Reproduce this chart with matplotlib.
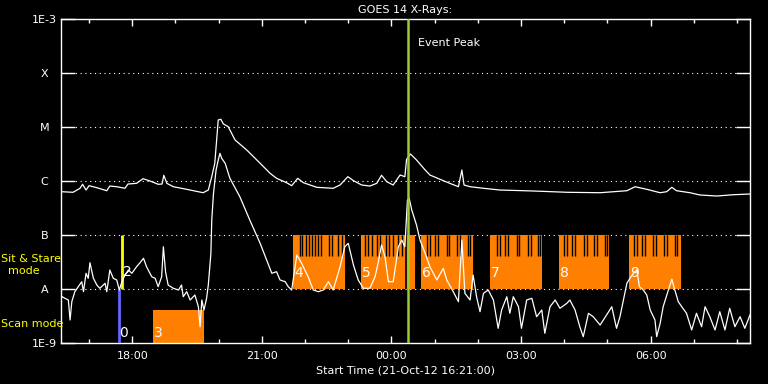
import numpy as np
import matplotlib
matplotlib.use("Agg")
import matplotlib.pyplot as plt
from matplotlib.ticker import FixedLocator, NullLocator

# times in hours from 21-Oct-12 00:00 (values > 24 are on 22-Oct)
t_start = 16.35
t_end = 32.30
event_peak = 24.39

# GOES 1-8 A channel (log10 W/m^2)
long_t = [16.35, 16.63, 16.79, 16.85, 16.93, 17.00, 17.18, 17.41, 17.48, 17.64,
          17.83, 17.90, 18.10, 18.25, 18.41, 18.60, 18.69, 18.73, 18.80, 18.95,
          19.26, 19.64, 19.76, 19.84, 19.91, 19.99, 20.05, 20.11, 20.22, 20.38,
          20.65, 20.96, 21.19, 21.34, 21.57, 21.69, 21.83, 21.96, 22.27, 22.65,
          22.81, 22.99, 23.12, 23.31, 23.50, 23.66, 23.77, 23.89, 24.04, 24.20,
          24.31, 24.35, 24.44, 24.58, 24.78, 24.89, 25.20, 25.35, 25.55, 25.63,
          25.68, 25.82, 26.13, 26.51, 27.28, 28.06, 28.83, 29.45, 29.64, 29.91,
          30.22, 30.37, 30.49, 30.60, 30.91, 31.14, 31.53, 31.91, 32.30]
long_logf = [-6.198, -6.209, -6.135, -6.061, -6.167, -6.087, -6.124, -6.180, -6.093, -6.106,
             -6.135, -6.056, -6.043, -5.957, -6.000, -6.061, -6.056, -5.894, -6.043, -6.106,
             -6.154, -6.217, -6.167, -5.920, -5.672, -4.870, -4.857, -4.944, -4.994, -5.241,
             -5.426, -5.672, -5.857, -5.950, -6.031, -6.087, -5.950, -6.031, -6.117, -6.135,
             -6.074, -5.920, -5.994, -6.074, -6.093, -6.043, -5.894, -6.013, -6.074, -5.889,
             -5.920, -5.598, -5.500, -5.611, -5.796, -5.889, -5.994, -6.043, -6.106, -5.796,
             -6.074, -6.106, -6.135, -6.167, -6.185, -6.209, -6.217, -6.180, -6.106, -6.154,
             -6.217, -6.198, -6.117, -6.180, -6.217, -6.259, -6.278, -6.254, -6.241]

# GOES 0.5-4 A channel (log10 W/m^2)
short_t = [16.35, 16.44, 16.52, 16.56, 16.60, 16.67, 16.75, 16.83, 16.87, 16.93,
           16.98, 17.02, 17.10, 17.18, 17.25, 17.37, 17.41, 17.48, 17.56, 17.64,
           17.70, 17.76, 17.83, 17.91, 17.99, 18.10, 18.18, 18.26, 18.33, 18.45,
           18.53, 18.60, 18.68, 18.72, 18.77, 18.83, 18.95, 19.07, 19.14, 19.18,
           19.26, 19.34, 19.45, 19.53, 19.57, 19.61, 19.66, 19.72, 19.76, 19.82,
           19.84, 19.88, 19.94, 19.99, 20.03, 20.07, 20.15, 20.26, 20.49, 20.72,
           20.96, 21.11, 21.23, 21.34, 21.42, 21.54, 21.61, 21.69, 21.81, 21.92,
           22.07, 22.19, 22.31, 22.42, 22.54, 22.65, 22.81, 22.92, 23.00, 23.12,
           23.23, 23.35, 23.50, 23.62, 23.69, 23.77, 23.85, 23.93, 24.04, 24.16,
           24.24, 24.31, 24.37, 24.41, 24.47, 24.58, 24.66, 24.78, 24.89, 25.05,
           25.20, 25.28, 25.43, 25.55, 25.63, 25.70, 25.82, 25.89, 25.97, 26.05,
           26.13, 26.24, 26.36, 26.47, 26.55, 26.67, 26.74, 26.82, 26.94, 27.01,
           27.13, 27.25, 27.36, 27.48, 27.55, 27.67, 27.79, 27.90, 28.06, 28.13,
           28.25, 28.36, 28.44, 28.56, 28.67, 28.83, 28.98, 29.10, 29.21, 29.29,
           29.37, 29.45, 29.52, 29.60, 29.68, 29.74, 29.83, 29.91, 29.99, 30.10,
           30.14, 30.22, 30.29, 30.41, 30.49, 30.56, 30.64, 30.72, 30.83, 30.95,
           31.06, 31.18, 31.26, 31.37, 31.49, 31.60, 31.72, 31.83, 31.95, 32.07,
           32.18, 32.30]
short_logf = [-8.130, -8.172, -8.204, -8.574, -8.235, -8.050, -7.957, -7.865, -8.050, -7.709,
              -7.802, -7.513, -7.802, -7.926, -7.987, -7.894, -8.050, -7.648, -7.802, -7.833,
              -8.019, -7.865, -7.741, -7.648, -7.709, -7.587, -7.513, -7.431, -7.587, -7.772,
              -7.802, -7.957, -7.772, -7.217, -7.680, -7.926, -7.987, -8.019, -7.926, -8.143,
              -8.050, -8.204, -8.111, -8.328, -8.698, -8.204, -8.389, -8.172, -7.926, -7.339,
              -6.722, -6.228, -5.796, -5.611, -5.487, -5.580, -5.672, -5.950, -6.291, -6.722,
              -7.154, -7.463, -7.709, -7.680, -7.833, -7.865, -7.957, -8.019, -7.370, -7.524,
              -7.772, -8.019, -8.050, -8.019, -7.865, -8.019, -7.587, -7.217, -7.154, -7.556,
              -7.833, -7.987, -7.987, -7.772, -7.524, -7.185, -7.402, -7.865, -7.865, -7.217,
              -7.093, -7.217, -6.352, -6.320, -6.537, -6.815, -7.093, -7.339, -7.587, -7.833,
              -7.617, -7.833, -8.050, -8.235, -7.093, -8.080, -8.204, -7.741, -8.143, -8.420,
              -8.080, -8.019, -8.204, -8.728, -8.389, -8.143, -8.450, -8.143, -8.328, -8.728,
              -8.204, -8.172, -8.513, -8.389, -8.820, -8.328, -8.204, -8.357, -8.265, -8.204,
              -8.389, -8.698, -8.883, -8.450, -8.513, -8.667, -8.481, -8.328, -8.728, -8.513,
              -8.204, -7.894, -7.802, -7.709, -7.648, -7.957, -8.019, -8.111, -8.389, -8.574,
              -8.883, -8.635, -8.328, -8.019, -7.820, -8.019, -8.235, -8.328, -8.450, -8.759,
              -8.450, -8.698, -8.328, -8.513, -8.759, -8.420, -8.759, -8.357, -8.698, -8.513,
              -8.728, -8.481]

# sit & stare observations
ss_labels = ["4", "5", "6", "7", "8", "9"]
ss_start = [21.73, 23.29, 24.68, 26.28, 27.88, 29.50]
ss_end = [22.92, 24.54, 25.88, 27.48, 29.03, 30.71]
ss_gaps = [21.88, 21.94, 22.02, 22.09, 22.16, 22.23, 22.30, 22.37, 22.55, 22.62, 22.76, 22.85,
           23.39, 23.46, 23.56, 23.66, 23.73, 23.87, 23.94, 24.03, 24.15, 24.24,
           24.82, 24.89, 25.01, 25.07, 25.28, 25.34, 25.51, 25.59, 25.78, 25.82,
           26.45, 26.51, 26.63, 26.69, 26.90, 26.96, 27.15, 27.22, 27.40, 27.44,
           27.99, 28.06, 28.19, 28.25, 28.46, 28.52, 28.69, 28.76, 28.94, 28.99,
           29.61, 29.69, 29.81, 29.87, 30.06, 30.12, 30.31, 30.37, 30.56, 30.62]
ss_full_gap = 24.33

# scan observation
scan_label = "3"
scan_start = 18.48
scan_end = 19.65
scan_top = -8.389

# short single observations
scan_mark_t = 17.70
ss_mark_t = 17.76

ytick_vals = [1e-9, 1e-8, 1e-7, 1e-6, 1e-5, 1e-4, 1e-3]
ytick_labels = ["1E-9", "A", "B", "C", "M", "X", "1E-3"]
xtick_vals = [18, 21, 24, 27, 30]
xtick_labels = ["18:00", "21:00", "00:00", "03:00", "06:00"]

orange = "#ff8000"

fig = plt.figure(figsize=(7.68, 3.84), dpi=100, facecolor="black")
ax = fig.add_axes([61 / 768, 41 / 384, 689 / 768, 324 / 384], facecolor="black")
ax.set_yscale("log")
ax.set_xlim(t_start, t_end)
ax.set_ylim(1e-9, 1e-3)

# dotted class lines
for v in ytick_vals[1:-1]:
    ax.axhline(v, color="white", lw=0.8, dashes=(1, 3.3), zorder=1)

# sit & stare blocks
for s, e, lab in zip(ss_start, ss_end, ss_labels):
    ax.fill_between([s, e], 1e-8, 1e-7, color=orange, lw=0, zorder=2)
    ax.text(s + 0.02, 10 ** -7.70, lab, color="white", fontsize=10,
            ha="left", va="center", zorder=6)
ax.vlines(ss_gaps, 10 ** -7.383, 1e-7, color="black", lw=1, zorder=3)
ax.vlines(ss_full_gap, 1e-8, 1e-7, color="black", lw=1.2, zorder=3)

# scan block
ax.fill_between([scan_start, scan_end], 1e-9, 10 ** scan_top, color=orange, lw=0, zorder=2)
ax.text(scan_start + 0.02, 10 ** -8.81, scan_label, color="white", fontsize=10,
        ha="left", va="center", zorder=6)

ax.vlines(scan_mark_t, 1e-9, 1e-8, color="#6464ff", lw=2, zorder=3)
ax.text(scan_mark_t, 10 ** -8.81, "0", color="white", fontsize=10,
        ha="left", va="center", zorder=6)
ax.vlines(ss_mark_t, 1e-8, 1e-7, color="#ffff00", lw=2, zorder=3)
ax.text(ss_mark_t + 0.02, 10 ** -7.69, "2", color="white", fontsize=10,
        ha="left", va="center", zorder=6)

# GOES curves
ax.plot(long_t, 10 ** np.array(long_logf), color="white", lw=0.9, zorder=4)
ax.plot(short_t, 10 ** np.array(short_logf), color="white", lw=0.9, zorder=4)

# event peak
ax.axvline(event_peak, color="#9acd32", lw=1.8, zorder=5)
ax.text(event_peak + 0.22, 10 ** -3.45, "Event Peak", color="white", fontsize=8,
        ha="left", va="center")

# axes styling
for sp in ax.spines.values():
    sp.set_color("white")
    sp.set_linewidth(1)
ax.yaxis.set_major_locator(FixedLocator(ytick_vals))
ax.yaxis.set_minor_locator(NullLocator())
ax.set_yticklabels(ytick_labels, ha="center")
ax.set_xticks(xtick_vals)
ax.set_xticklabels(xtick_labels)
ax.xaxis.set_minor_locator(FixedLocator(list(range(17, 33))))
ax.tick_params(which="both", direction="in", colors="white", top=True, right=True,
               labelsize=8)
ax.tick_params(axis="y", length=10, width=1, pad=12)
ax.tick_params(axis="x", which="major", length=5, width=1, pad=6)
ax.tick_params(axis="x", which="minor", length=3, width=1)

ax.set_title("GOES 14 X-Rays:", color="white", fontsize=8, pad=4)
ax.set_xlabel("Start Time (21-Oct-12 16:21:00)", color="white", fontsize=8, labelpad=3)

fig.text(1 / 768, 1 - 259 / 384, "Sit & Stare", color="#ffff00", fontsize=8,
         ha="left", va="center")
fig.text(24 / 768, 1 - 271 / 384, "mode", color="#ffff00", fontsize=8,
         ha="center", va="center")
fig.text(1 / 768, 1 - 324 / 384, "Scan mode", color="#ffff00", fontsize=8,
         ha="left", va="center")

fig.savefig("out.png", dpi=100, facecolor="black")
